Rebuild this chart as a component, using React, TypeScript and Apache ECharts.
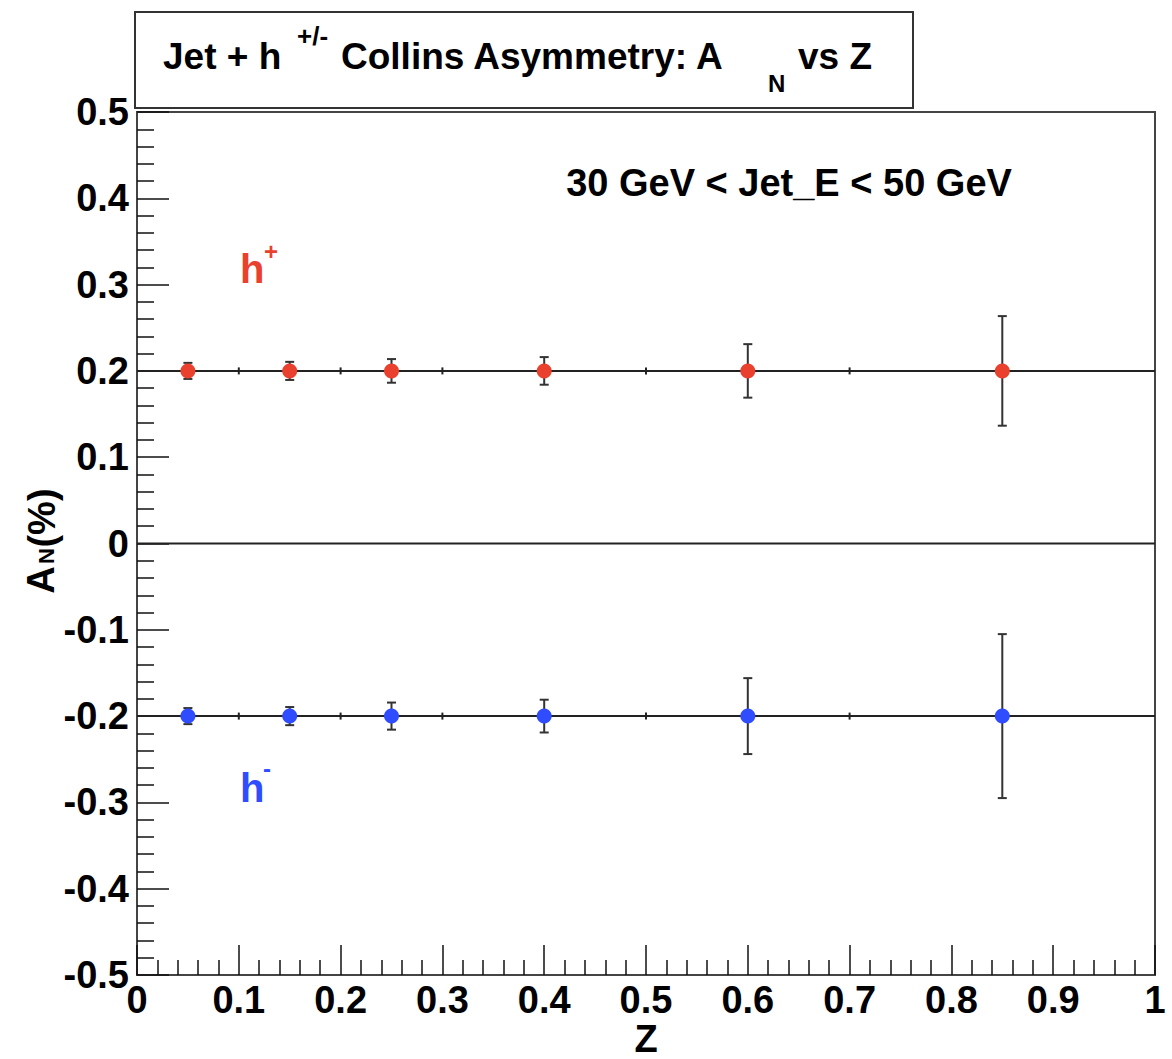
import React, { useEffect, useRef } from "react";
import * as echarts from "echarts";

// ---- data ----
const zCenters = [0.05, 0.15, 0.25, 0.4, 0.6, 0.85];
const binEdges = [0, 0.1, 0.2, 0.3, 0.5, 0.7, 1.0];
const hPlusAN = [0.2, 0.2, 0.2, 0.2, 0.2, 0.2];
const hPlusErr = [0.0093, 0.0105, 0.0137, 0.016, 0.031, 0.0635];
const hMinusAN = [-0.2, -0.2, -0.2, -0.2, -0.2, -0.2];
const hMinusErr = [0.0093, 0.0105, 0.0157, 0.019, 0.044, 0.095];
const zeroLevel = 0;
const xTickLabels = ["0", "0.1", "0.2", "0.3", "0.4", "0.5", "0.6", "0.7", "0.8", "0.9", "1"];

const FONT = "'Liberation Sans', Arial, Helvetica, sans-serif";
const RED = "#e9412d";
const BLUE = "#2f4cff";

export default function App() {
  const ref = useRef<HTMLDivElement>(null);

  useEffect(() => {
    document.body.style.margin = "0";
    const chart = echarts.init(ref.current!, undefined, { renderer: "svg" });

    const levelLine = (levels: number[]) =>
      binEdges.map((x, i) => [x, levels[Math.min(i, levels.length - 1)]]);

    const errData = (vals: number[], errs: number[]) =>
      zCenters.map((z, i) => [z, vals[i], errs[i]]);

    const errorBarRender = (params: any, api: any) => {
      const x = api.value(0);
      const y = api.value(1);
      const e = api.value(2);
      const top = api.coord([x, y + e]);
      const bot = api.coord([x, y - e]);
      const hw = 4.5;
      const st = { stroke: "#333", lineWidth: 2 };
      return {
        type: "group",
        children: [
          { type: "line", shape: { x1: top[0], y1: top[1], x2: bot[0], y2: bot[1] }, style: st },
          { type: "line", shape: { x1: top[0] - hw, y1: top[1], x2: top[0] + hw, y2: top[1] }, style: st },
          { type: "line", shape: { x1: bot[0] - hw, y1: bot[1], x2: bot[0] + hw, y2: bot[1] }, style: st },
        ],
      };
    };

    const edgeTickRender = (params: any, api: any) => {
      const p = api.coord([api.value(0), api.value(1)]);
      return {
        type: "line",
        shape: { x1: p[0], y1: p[1] - 3.5, x2: p[0], y2: p[1] + 3.5 },
        style: { stroke: "#222", lineWidth: 2 },
      };
    };

    const innerEdges = binEdges.slice(1, -1);

    const textBase = { fontFamily: FONT, fontWeight: "bold", fill: "#000" };

    chart.setOption({
      animation: false,
      backgroundColor: "#fff",
      grid: {
        left: 137,
        top: 112,
        width: 1018,
        height: 863,
        show: true,
        borderColor: "#444",
        borderWidth: 2,
        backgroundColor: "transparent",
      },
      xAxis: {
        type: "value",
        min: 0,
        max: 1,
        interval: 0.1,
        axisLine: { show: true, onZero: false, lineStyle: { color: "#444", width: 2 } },
        axisTick: { show: true, inside: true, length: 30, lineStyle: { color: "#111", width: 1.5 } },
        minorTick: { show: true, splitNumber: 5, length: 15, lineStyle: { color: "#111", width: 1.5 } },
        splitLine: { show: false },
        axisLabel: {
          fontFamily: FONT,
          fontWeight: "bold",
          fontSize: 38,
          color: "#000",
          margin: 6,
          formatter: (v: number) => xTickLabels[Math.round(v * 10)] ?? String(v),
        },
      },
      yAxis: {
        type: "value",
        min: -0.5,
        max: 0.5,
        interval: 0.1,
        axisLine: { show: true, onZero: false, lineStyle: { color: "#444", width: 2 } },
        axisTick: { show: true, inside: true, length: 32, lineStyle: { color: "#111", width: 1.5 } },
        minorTick: { show: true, splitNumber: 5, length: 17, lineStyle: { color: "#111", width: 1.5 } },
        splitLine: { show: false },
        axisLabel: {
          fontFamily: FONT,
          fontWeight: "bold",
          fontSize: 38,
          color: "#000",
          margin: 8,
          formatter: (v: number) => {
            const r = Math.round(v * 10) / 10;
            return r === 0 ? "0" : String(r);
          },
        },
      },
      series: [
        {
          type: "line",
          data: levelLine(hPlusAN),
          symbol: "none",
          lineStyle: { color: "#222", width: 2 },
          silent: true,
          z: 2,
        },
        {
          type: "line",
          data: levelLine(binEdges.map(() => zeroLevel)),
          symbol: "none",
          lineStyle: { color: "#222", width: 2 },
          silent: true,
          z: 2,
        },
        {
          type: "line",
          data: levelLine(hMinusAN),
          symbol: "none",
          lineStyle: { color: "#222", width: 2 },
          silent: true,
          z: 2,
        },
        {
          type: "custom",
          renderItem: edgeTickRender,
          data: innerEdges.map((x) => [x, hPlusAN[0]]),
          encode: { x: 0, y: 1 },
          z: 3,
        },
        {
          type: "custom",
          renderItem: edgeTickRender,
          data: innerEdges.map((x) => [x, hMinusAN[0]]),
          encode: { x: 0, y: 1 },
          z: 3,
        },
        {
          type: "custom",
          renderItem: errorBarRender,
          data: errData(hPlusAN, hPlusErr),
          encode: { x: 0, y: [1] },
          z: 4,
        },
        {
          type: "custom",
          renderItem: errorBarRender,
          data: errData(hMinusAN, hMinusErr),
          encode: { x: 0, y: [1] },
          z: 4,
        },
        {
          type: "scatter",
          data: zCenters.map((z, i) => [z, hPlusAN[i]]),
          symbol: "circle",
          symbolSize: 15,
          itemStyle: { color: RED, opacity: 1 },
          z: 5,
        },
        {
          type: "scatter",
          data: zCenters.map((z, i) => [z, hMinusAN[i]]),
          symbol: "circle",
          symbolSize: 15,
          itemStyle: { color: BLUE, opacity: 1 },
          z: 5,
        },
      ],
      graphic: [
        {
          type: "rect",
          shape: { x: 135, y: 12, width: 778, height: 96 },
          style: { fill: "#fff", stroke: "#333", lineWidth: 2 },
          z: 10,
        },
        { type: "text", x: 163, y: 56, style: { ...textBase, text: "Jet + h", fontSize: 37, align: "left", verticalAlign: "middle" }, z: 11 },
        { type: "text", x: 297, y: 36, style: { ...textBase, text: "+/-", fontSize: 26, align: "left", verticalAlign: "middle" }, z: 11 },
        { type: "text", x: 341, y: 56, style: { ...textBase, text: "Collins Asymmetry: A", fontSize: 37, align: "left", verticalAlign: "middle" }, z: 11 },
        { type: "text", x: 768, y: 83, style: { ...textBase, text: "N", fontSize: 24, align: "left", verticalAlign: "middle" }, z: 11 },
        { type: "text", x: 798, y: 56, style: { ...textBase, text: "vs Z", fontSize: 37, align: "left", verticalAlign: "middle" }, z: 11 },

        { type: "text", x: 789, y: 183, style: { ...textBase, text: "30 GeV < Jet_E < 50 GeV", fontSize: 38, align: "center", verticalAlign: "middle" }, z: 11 },

        { type: "text", x: 240, y: 269, style: { ...textBase, fill: RED, text: "h", fontSize: 40, align: "left", verticalAlign: "middle" }, z: 11 },
        { type: "text", x: 264, y: 251, style: { ...textBase, fill: RED, text: "+", fontSize: 24, align: "left", verticalAlign: "middle" }, z: 11 },
        { type: "text", x: 240, y: 788, style: { ...textBase, fill: BLUE, text: "h", fontSize: 40, align: "left", verticalAlign: "middle" }, z: 11 },
        { type: "text", x: 263, y: 768, style: { ...textBase, fill: BLUE, text: "-", fontSize: 24, align: "left", verticalAlign: "middle" }, z: 11 },

        { type: "text", x: 646, y: 1039, style: { ...textBase, text: "Z", fontSize: 38, align: "center", verticalAlign: "middle" }, z: 11 },

        { type: "text", x: 41, y: 580, rotation: Math.PI / 2, style: { ...textBase, text: "A", fontSize: 38, align: "center", verticalAlign: "middle" }, z: 11 },
        { type: "text", x: 46, y: 556, rotation: Math.PI / 2, style: { ...textBase, text: "N", fontSize: 22, align: "center", verticalAlign: "middle" }, z: 11 },
        { type: "text", x: 42, y: 518, rotation: Math.PI / 2, style: { ...textBase, text: "(%)", fontSize: 38, align: "center", verticalAlign: "middle" }, z: 11 },
      ],
    });

    return () => chart.dispose();
  }, []);

  return <div ref={ref} style={{ width: 1172, height: 1059 }} />;
}
